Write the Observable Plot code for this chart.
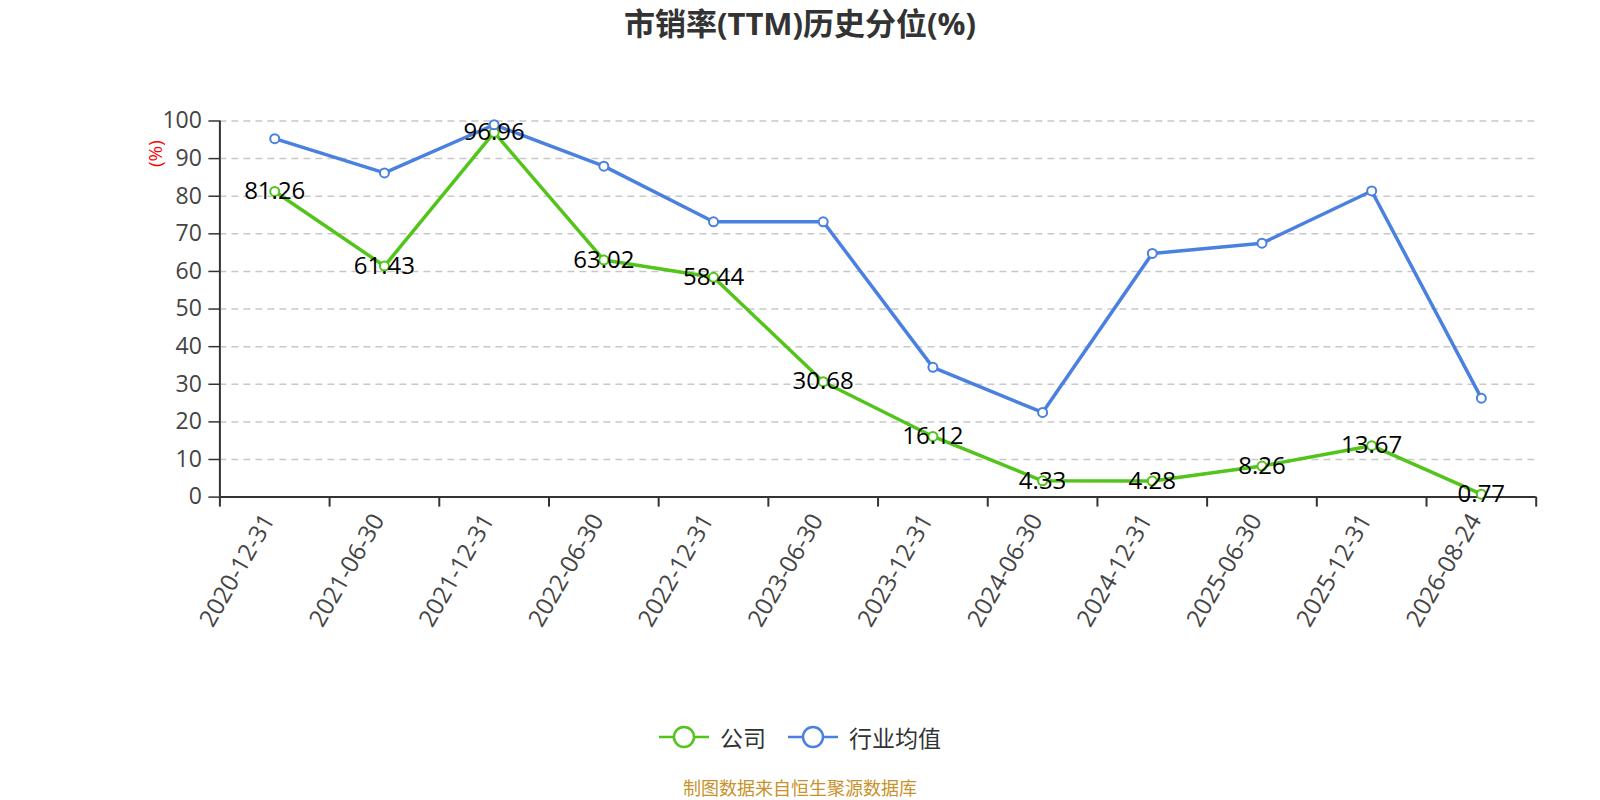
<!DOCTYPE html>
<html>
<head>
<meta charset="utf-8">
<script src="https://cdn.jsdelivr.net/npm/d3@7"></script>
<script src="https://cdn.jsdelivr.net/npm/@observablehq/plot@0.6"></script>
<style>
  body { margin: 0; background: #fff; }
  #wrap { position: relative; width: 1600px; height: 800px; overflow: hidden; font-family: "Open Sans", "Noto Sans CJK SC", sans-serif; }
  #chart { position: absolute; left: 0; top: 0; }
  #title { position: absolute; left: 0; top: 2px; width: 1600px; text-align: center; font-weight: bold; font-size: 31px; color: #333; font-family: "Open Sans", "Noto Sans CJK SC", sans-serif; line-height: 42px; }
  #legend { position: absolute; left: 0; top: 720px; width: 1600px; display: flex; justify-content: center; align-items: center; font-size: 23px; color: #333; font-family: "Noto Sans CJK SC", sans-serif; }
  .item { display: flex; align-items: center; margin: 0 11px; }
  .item svg { margin-right: 11px; }
  #footer { position: absolute; left: 0; top: 777px; width: 1600px; text-align: center; font-size: 18px; color: #c8922a; font-family: "Noto Sans CJK SC", sans-serif; line-height: 20px; }
</style>
</head>
<body>
<div id="wrap">
  <div id="chart"></div>
  <div id="title">市销率(TTM)历史分位(%)</div>
  <div id="legend"></div>
  <div id="footer">制图数据来自恒生聚源数据库</div>
</div>
<script>
const categories = ["2020-12-31","2021-06-30","2021-12-31","2022-06-30","2022-12-31","2023-06-30","2023-12-31","2024-06-30","2024-12-31","2025-06-30","2025-12-31","2026-08-24"];
const companyValues = [81.26, 61.43, 96.96, 63.02, 58.44, 30.68, 16.12, 4.33, 4.28, 8.26, 13.67, 0.77];
const industryValues = [95.3, 86.2, 99.0, 88.0, 73.2, 73.2, 34.5, 22.5, 64.8, 67.5, 81.4, 26.3];
const yTicks = [0, 10, 20, 30, 40, 50, 60, 70, 80, 90, 100];
const seriesNames = ["公司", "行业均值"];
const seriesColors = ["#52c41a", "#4a80e0"];

const company = categories.map((c, i) => ({i, cat: c, v: companyValues[i]}));
const industry = categories.map((c, i) => ({i, cat: c, v: industryValues[i]}));
const xPos = d => d.i + 0.5;
const boundaries = d3.range(categories.length + 1);
const centers = d3.range(categories.length).map(i => i + 0.5);

const chart = Plot.plot({
  width: 1600,
  height: 800,
  marginLeft: 219.4,
  marginRight: 64.3,
  marginTop: 120.5,
  marginBottom: 303.4,
  style: { fontFamily: "'Open Sans', 'Noto Sans CJK SC', sans-serif", background: "transparent" },
  x: { type: "linear", domain: [0, categories.length] },
  y: { domain: [0, 100] },
  marks: [
    Plot.ruleY(yTicks.filter(t => t > 0), { stroke: "#c8c8c8", strokeWidth: 1.5, strokeDasharray: "7,5" }),
    Plot.axisY({ ticks: yTicks, tickSize: 11, tickPadding: 7, fontSize: 23, stroke: "#333", fill: "#444", strokeWidth: 1.5, label: null }),
    Plot.axisX({ ticks: boundaries, tickSize: 10, tickFormat: () => "", stroke: "#333", strokeWidth: 2, label: null }),
    Plot.axisX({ ticks: centers, tickSize: 0, tickPadding: 14, tickRotate: -60, fontSize: 24, fill: "#444", dx: -6, dy: 5, tickFormat: v => categories[Math.floor(v)], label: null }),
    Plot.ruleX([0], { stroke: "#333", strokeWidth: 2 }),
    Plot.ruleY([0], { stroke: "#333", strokeWidth: 2 }),
    Plot.text(["(%)"], { frameAnchor: "top-left", dx: -71, dy: 46, rotate: -90, fill: "red", fontSize: 19 }),
    Plot.line(company, { x: xPos, y: "v", stroke: seriesColors[0], strokeWidth: 3.5 }),
    Plot.line(industry, { x: xPos, y: "v", stroke: seriesColors[1], strokeWidth: 3.5 }),
    Plot.dot(company, { x: xPos, y: "v", r: 4.5, fill: "white", stroke: seriesColors[0], strokeWidth: 2 }),
    Plot.dot(industry, { x: xPos, y: "v", r: 4.5, fill: "white", stroke: seriesColors[1], strokeWidth: 2 }),
    Plot.text(company, { x: xPos, y: "v", text: d => d.v.toFixed(2), fontSize: 24, fill: "#000" })
  ]
});
document.getElementById("chart").appendChild(chart);

const legend = document.getElementById("legend");
seriesNames.forEach((name, k) => {
  const item = document.createElement("div");
  item.className = "item";
  item.innerHTML = `<svg width="50" height="26"><line x1="0" y1="13" x2="50" y2="13" stroke="${seriesColors[k]}" stroke-width="2.5"/><circle cx="25" cy="13" r="10" fill="white" stroke="${seriesColors[k]}" stroke-width="2.5"/></svg><span>${name}</span>`;
  legend.appendChild(item);
});
</script>
</body>
</html>
